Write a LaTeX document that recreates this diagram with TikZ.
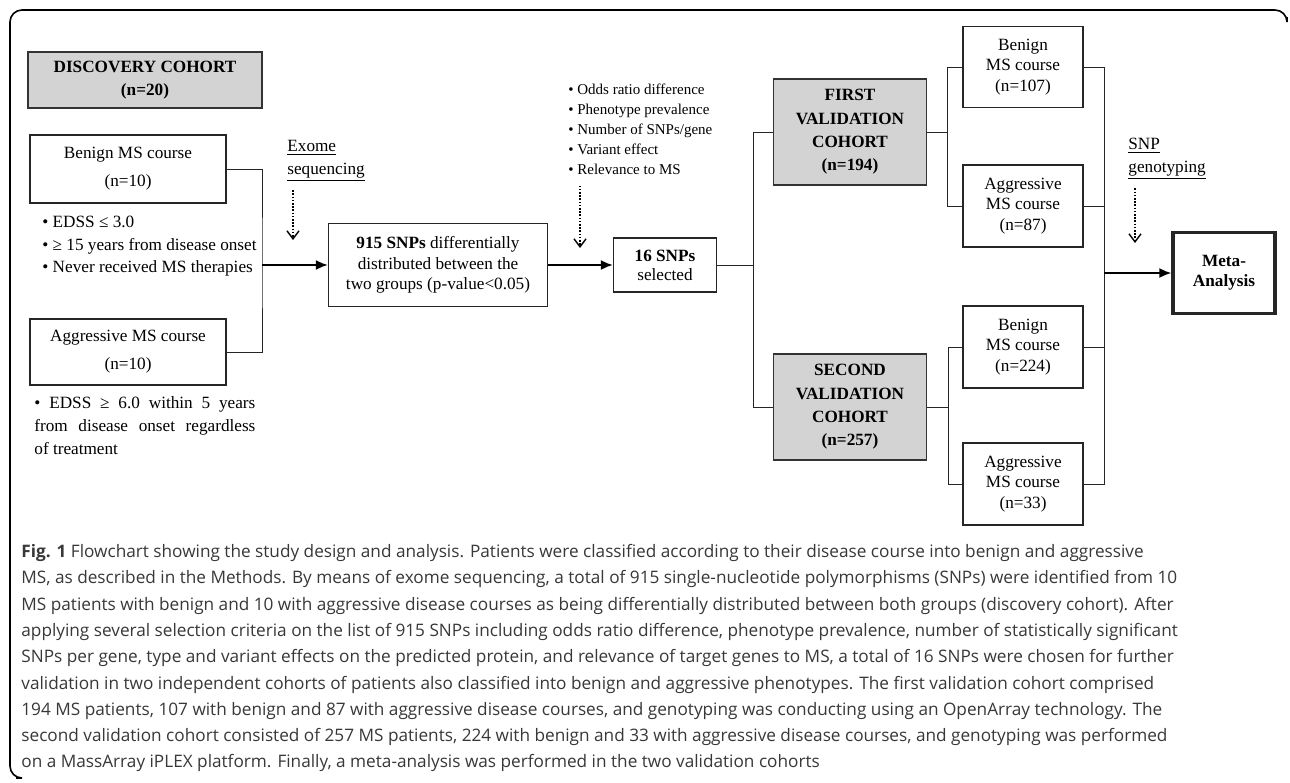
\documentclass[tikz,border=0pt]{standalone}
\usepackage{fontspec}
\setmainfont{Liberation Serif}
\newfontfamily\capfont{Open Sans}
\usetikzlibrary{math,arrows.meta}
\definecolor{cohortgray}{HTML}{D3D3D3}

\tikzset{
  box/.style={draw=black!85, line width=0.6pt, align=center, inner sep=0pt,
    font=\fontsize{8.6}{10.25}\selectfont},
  cohort/.style={box, fill=cohortgray, draw=black!80, line width=0.8pt,
    font=\fontsize{8.6}{11.7}\selectfont\bfseries},
  boxsize/.style 2 args={minimum width=#1*0.5pt, minimum height=#2*0.5pt},
  note/.style={align=left, inner sep=0pt, font=\fontsize{8.6}{11.25}\selectfont},
  link/.style={line width=0.5pt, draw=black!85},
  arr/.style={line width=1pt, -{Latex[length=6pt,width=5pt]}},
  dotarr/.style={line width=1pt, dash pattern=on 0.8pt off 0.8pt,
    -{Straight Barb[length=4pt,width=6pt,line width=0.7pt]}},
}

\begin{document}
\begin{tikzpicture}[x=0.5pt, y=-0.5pt]
  \tikzmath{%
    \ja = 262; \jb = 753; \jc = 947; \jd = 1104;
  }
  \useasboundingbox (0,0) rectangle (1290,782);
  \fill[white] (0,0) rectangle (1290,782);
  \draw[line width=0.8pt, rounded corners=6pt] (1287,17) -- (1287,10) -- (10,10) -- (10,778) -- (16,778);

  % discovery cohort
  \node[cohort, boxsize={234}{56}, font=\fontsize{8.6}{11.5}\selectfont\bfseries] (disc) at (145,80) {DISCOVERY COHORT\\(n=20)};
  \node[box, boxsize={196}{68}, font=\fontsize{8.6}{14}\selectfont] (benign) at (128,169) {Benign MS course\\(n=10)};
  \node[box, boxsize={196}{66}, font=\fontsize{8.6}{14}\selectfont] (aggr) at (128,352) {Aggressive MS course\\(n=10)};
  \node[note, anchor=north west] (bcrit) at (42,216) {• EDSS ≤ 3.0\\• ≥ 15 years from disease onset\\• Never received MS therapies};
  \node[note, anchor=north west, text width=110.5pt, align=justify, font=\fontsize{8.6}{11.5}\selectfont] (acrit) at (34,396)
    {• EDSS ≥ 6.0 within 5 years\linebreak from disease onset regardless\linebreak of treatment};

  % exome sequencing
  \node[note, anchor=north west] (exome) at (287,140) {\underline{Exome}\\\underline{sequencing}};
  \coordinate (exome tip) at (293,240);
  \draw[dotarr, shorten <=4pt] (exome.south -| exome tip) -- (exome tip);

  \node[box, boxsize={219}{83}] (snp915) at (438,265) {\textbf{915 SNPs} differentially\\distributed between the\\two groups (p-value<0.05)};
  \node[box, boxsize={103}{54}, font=\fontsize{8.6}{9.5}\selectfont] (snp16) at (665,265) {\textbf{16 SNPs}\\selected};
  \node[note, anchor=north west, font=\fontsize{7.5}{10}\selectfont] (crit) at (568,84)
    {• Odds ratio difference\\• Phenotype prevalence\\• Number of SNPs/gene\\• Variant effect\\• Relevance to MS};
  \coordinate (crit tip) at (580,248);
  \draw[dotarr, shorten <=5pt] (crit.south -| crit tip) -- (crit tip);

  % validation cohorts
  \node[cohort, boxsize={153}{106}] (first) at (850,132) {FIRST\\VALIDATION\\COHORT\\(n=194)};
  \node[cohort, boxsize={153}{106}] (second) at (850,407) {SECOND\\VALIDATION\\COHORT\\(n=257)};
  \node[box, boxsize={120}{81}] (b107) at (1023,67) {Benign\\MS course\\(n=107)};
  \node[box, boxsize={120}{82}] (a87) at (1023,206) {Aggressive\\MS course\\(n=87)};
  \node[box, boxsize={120}{82}] (b224) at (1023,347) {Benign\\MS course\\(n=224)};
  \node[box, boxsize={120}{82}] (a33) at (1023,484) {Aggressive\\MS course\\(n=33)};
  \node[box, boxsize={102}{81}, line width=1.6pt, font=\fontsize{8.6}{10}\selectfont\bfseries] (meta) at (1224,273) {Meta-\\Analysis};
  \node[note, anchor=north west] (geno) at (1128,138) {\underline{SNP}\\\underline{genotyping}};
  \coordinate (geno tip) at (1135,243);
  \draw[dotarr, shorten <=4pt] (geno.south -| geno tip) -- (geno tip);

  % connectors
  \coordinate (ja) at (\ja,265);
  \coordinate (jb) at (\jb,265);
  \coordinate (jc) at (\jc,132);
  \coordinate (jd) at (\jc+1,407);
  \coordinate (je) at (\jd,273);
  \draw[link] (benign.east) -| (ja) |- (aggr.east);
  \draw[arr] (ja) -- (snp915.west);
  \draw[arr] (snp915.east) -- (snp16.west);
  \draw[link] (snp16.east) -- (jb);
  \draw[link] (first.west) -| (jb) |- (second.west);
  \draw[link] (first.east) -- (jc);
  \draw[link] (b107.west) -| (jc) |- (a87.west);
  \draw[link] (second.east) -- (jd);
  \draw[link] (b224.west) -| (jd) |- (a33.west);
  \draw[link] (b107.east) -| (je) |- (a33.east);
  \draw[link] (a87.east) -- (a87.east -| je);
  \draw[link] (b224.east) -- (b224.east -| je);
  \draw[arr] (je) -- (meta.west);

  % caption
  \node[anchor=north west, align=left, inner sep=0pt, text=black!78, font=\capfont\fontsize{8.6}{13.15}\selectfont] (caption) at (21,544)
    {\textbf{Fig. 1} Flowchart showing the study design and analysis. Patients were classified according to their disease course into benign and aggressive\\
     MS, as described in the Methods. By means of exome sequencing, a total of 915 single-nucleotide polymorphisms (SNPs) were identified from 10\\
     MS patients with benign and 10 with aggressive disease courses as being differentially distributed between both groups (discovery cohort). After\\
     applying several selection criteria on the list of 915 SNPs including odds ratio difference, phenotype prevalence, number of statistically significant\\
     SNPs per gene, type and variant effects on the predicted protein, and relevance of target genes to MS, a total of 16 SNPs were chosen for further\\
     validation in two independent cohorts of patients also classified into benign and aggressive phenotypes. The first validation cohort comprised\\
     194 MS patients, 107 with benign and 87 with aggressive disease courses, and genotyping was conducting using an OpenArray technology. The\\
     second validation cohort consisted of 257 MS patients, 224 with benign and 33 with aggressive disease courses, and genotyping was performed\\
     on a MassArray iPLEX platform. Finally, a meta-analysis was performed in the two validation cohorts};
\end{tikzpicture}
\end{document}
